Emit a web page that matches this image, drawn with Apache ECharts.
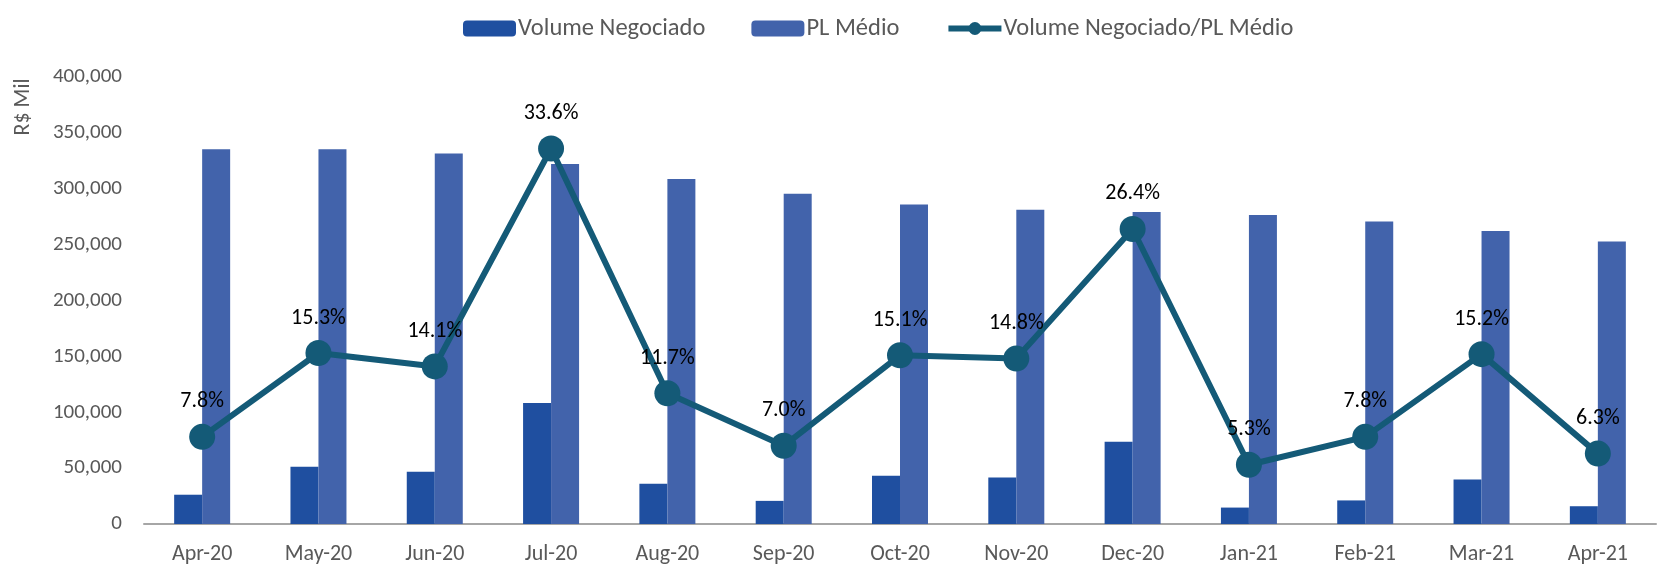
<!DOCTYPE html>
<html>
<head>
<meta charset="utf-8">
<script src="https://cdn.jsdelivr.net/npm/echarts@6/dist/echarts.min.js"></script>
<style>
  html, body { margin: 0; padding: 0; background: #fff; }
  #chart { width: 1667px; height: 566px; }
</style>
</head>
<body>
<div id="chart"></div>
<script>
const months = ['Apr-20', 'May-20', 'Jun-20', 'Jul-20', 'Aug-20', 'Sep-20', 'Oct-20',
  'Nov-20', 'Dec-20', 'Jan-21', 'Feb-21', 'Mar-21', 'Apr-21'];
const volumeNegociado = [26200, 51300, 46800, 108200, 36100, 20700, 43200,
  41600, 73700, 14700, 21100, 39900, 15900];
const plMedio = [335400, 335400, 331600, 322100, 308800, 295500, 286000,
  281200, 279300, 276500, 270800, 262200, 252700];
const ratioPct = [7.8, 15.3, 14.1, 33.6, 11.7, 7.0, 15.1, 14.8, 26.4, 5.3, 7.8, 15.2, 6.3];

const FONT = 'Carlito, Lato, sans-serif';
const GREY = '#595959';
const LINE = '#145A77';

const chart = echarts.init(document.getElementById('chart'));

chart.setOption({
  animation: false,
  textStyle: { fontFamily: FONT },
  legend: {
    top: 11,
    left: 458,
    itemWidth: 53,
    itemHeight: 16,
    itemGap: 46,
    textStyle: { color: GREY, fontSize: 24.5, fontFamily: FONT, padding: [0, 0, 0, -3] },
    data: [
      'Volume Negociado',
      'PL Médio',
      { name: 'Volume Negociado/PL Médio', lineStyle: { width: 6, color: LINE } }
    ]
  },
  grid: { left: 144, right: 11, top: 77, bottom: 42 },
  graphic: [{
    type: 'text',
    x: 23,
    y: 107,
    rotation: Math.PI / 2,
    style: {
      text: 'R$ Mil',
      fill: GREY,
      fontSize: 22,
      fontFamily: FONT,
      align: 'center',
      verticalAlign: 'middle'
    }
  }],
  xAxis: {
    type: 'category',
    data: months,
    axisLine: { lineStyle: { color: '#A6A6A6', width: 2 } },
    axisTick: { show: false },
    axisLabel: { color: GREY, fontSize: 22, margin: 19, fontFamily: FONT }
  },
  yAxis: [{
    type: 'value',
    min: 0,
    max: 400000,
    interval: 50000,
    splitLine: { show: false },
    axisLine: { show: false },
    axisTick: { show: false },
    axisLabel: {
      color: GREY, fontSize: 21, margin: 22, fontFamily: FONT,
      formatter: v => v.toLocaleString('en-US')
    }
  }, {
    type: 'value',
    min: 0,
    max: 40,
    interval: 5,
    show: false,
    splitLine: { show: false }
  }],
  series: [{
    name: 'Volume Negociado',
    type: 'bar',
    data: volumeNegociado,
    barWidth: 28,
    barGap: '0%',
    itemStyle: { color: '#1F4FA0' }
  }, {
    name: 'PL Médio',
    type: 'bar',
    data: plMedio,
    barWidth: 28,
    itemStyle: { color: '#4263AB' }
  }, {
    name: 'Volume Negociado/PL Médio',
    type: 'line',
    yAxisIndex: 1,
    data: ratioPct,
    symbol: 'circle',
    symbolSize: 26,
    lineStyle: { color: LINE, width: 6 },
    itemStyle: { color: LINE },
    label: {
      show: true,
      position: 'top',
      distance: 11,
      color: '#000',
      fontSize: 22,
      fontFamily: FONT,
      formatter: p => p.value.toFixed(1) + '%'
    },
    z: 5
  }]
});
</script>
</body>
</html>
